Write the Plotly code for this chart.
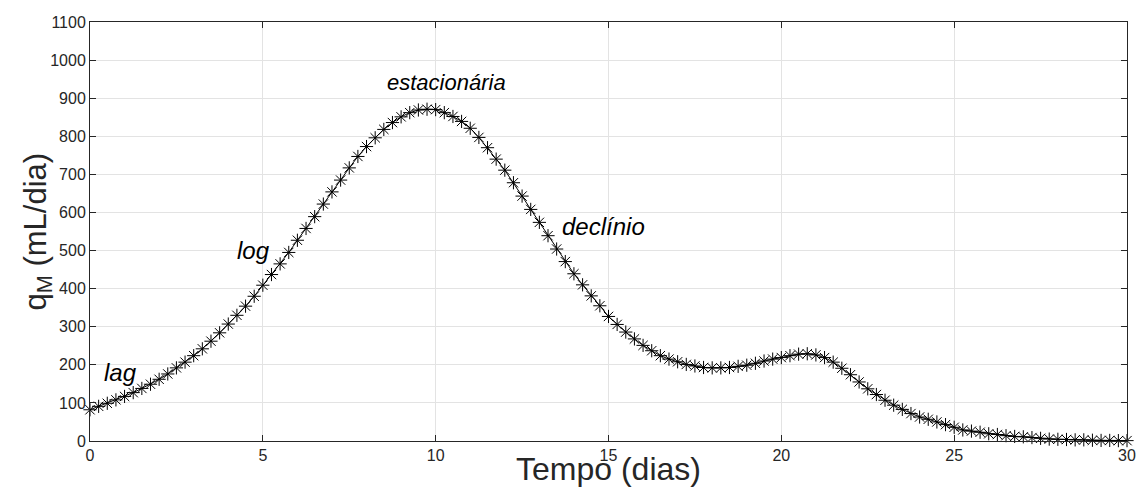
import plotly.graph_objects as go

# Time axis (days), sampled every 0.25 day
dias = [i * 0.25 for i in range(121)]

# q_M values (mL/dia)
q_m = [
    82, 91, 99, 108, 117, 127, 138, 149, 162, 176, 192, 207, 224, 242, 262, 284, 307, 330, 354, 380, 409,
    437, 465, 495, 527, 558, 589, 622, 654, 685, 717, 747, 773, 796, 818, 836, 851, 862, 869, 871, 870,
    862, 852, 839, 821, 797, 770, 740, 711, 678, 643, 608, 574, 539, 504, 471, 439, 410, 381, 355, 327,
    306, 286, 268, 251, 237, 224, 215, 208, 201, 197, 193, 192, 192, 193, 196, 199, 204, 210, 215, 219,
    224, 228, 229, 226, 219, 207, 191, 174, 155, 137, 122, 107, 94, 83, 72, 63, 57, 50, 43, 36,
    29, 26, 23, 19, 17, 14, 12, 11, 9, 7, 5, 4.5, 4, 3, 3, 2, 1.5, 1.5, 1, 1,
]

x_ticks = [0, 5, 10, 15, 20, 25, 30]
y_ticks = [0, 100, 200, 300, 400, 500, 600, 700, 800, 900, 1000, 1100]

phase_labels = ["lag", "log", "estacionária", "declínio"]
phase_x = [0.87, 4.72, 10.3, 14.85]
phase_y = [181, 501, 940, 564]
phase_size = [24, 24, 22, 24]

FONT = "Liberation Sans, Arial, sans-serif"
AX = "#262626"

fig = go.Figure()
fig.add_trace(go.Scatter(
    x=dias, y=q_m, mode="lines+markers",
    line=dict(color="black", width=1),
    marker=dict(symbol="asterisk-open", size=11, color="black",
                line=dict(color="black", width=1)),
    cliponaxis=False, showlegend=False,
))

for txt, xx, yy, sz in zip(phase_labels, phase_x, phase_y, phase_size):
    fig.add_annotation(x=xx, y=yy, text=f"<i>{txt}</i>", showarrow=False,
                       font=dict(family=FONT, size=sz, color="black"),
                       xanchor="center", yanchor="middle")

# Axis titles as annotations for precise placement
fig.add_annotation(x=0.5, y=0, xref="paper", yref="paper", yshift=-28,
                   text="Tempo (dias)", showarrow=False,
                   font=dict(family=FONT, size=32, color=AX),
                   xanchor="center", yanchor="middle")
fig.add_annotation(x=0, y=0.5, xref="paper", yref="paper", xshift=-53,
                   text="q<sub>M</sub> (mL/dia)", showarrow=False, textangle=-90,
                   font=dict(family=FONT, size=31, color=AX),
                   xanchor="center", yanchor="middle")

axis_common = dict(
    showline=True, linecolor=AX, linewidth=1, mirror="ticks",
    ticks="inside", ticklen=6, tickcolor=AX, tickwidth=1,
    showgrid=True, gridcolor="#e3e3e3", gridwidth=1,
    zeroline=False, automargin=False,
    tickfont=dict(family=FONT, size=16, color=AX),
)

fig.update_xaxes(range=[0, 30], tickvals=x_ticks, **axis_common)
fig.update_yaxes(range=[0, 1100], tickvals=y_ticks, **axis_common)

fig.update_layout(
    width=1138, height=489,
    margin=dict(l=90, r=11, t=22, b=48),
    plot_bgcolor="white", paper_bgcolor="white",
    font=dict(family=FONT),
)

fig.write_html("out.html")
